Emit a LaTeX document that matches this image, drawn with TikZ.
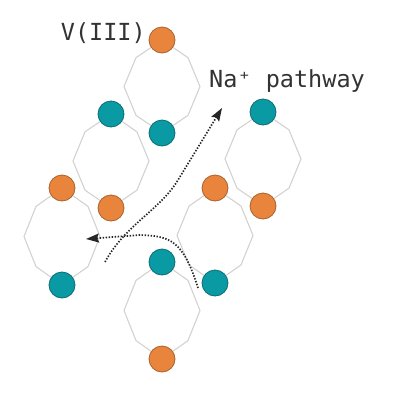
\documentclass[tikz,border=0pt]{standalone}
\usepackage{fontspec}
\usepackage{tikz}
\usetikzlibrary{arrows.meta}
\newfontfamily\labelfont{DejaVu Sans Mono}
\definecolor{vorange}{HTML}{E8843C}
\definecolor{vorangeline}{HTML}{A9622B}
\definecolor{vteal}{HTML}{0A9AA3}
\definecolor{vtealline}{HTML}{0B6C73}
\definecolor{cageline}{HTML}{D2D2D2}
\definecolor{inkgray}{HTML}{333333}
\tikzstyle{cage}=[draw=cageline, line width=1.1pt, line join=round]
\tikzstyle{ion}=[circle, minimum size=26pt, inner sep=0pt, line width=0.8pt]
\tikzstyle{orange ion}=[ion, fill=vorange, draw=vorangeline]
\tikzstyle{teal ion}=[ion, fill=vteal, draw=vtealline]
\tikzstyle{pathway}=[draw=black!85, line width=1.7pt, dash pattern=on 1.4pt off 1.6pt,
  -{Stealth[length=13pt,width=9pt,inset=2pt]}]
\tikzstyle{label text}=[inner sep=0pt, text=inkgray, font=\labelfont\fontsize{23.5}{28}\selectfont]

\begin{document}
\begin{tikzpicture}[x=1pt, y=-1pt]
  \useasboundingbox (0,0) rectangle (404,394);
  % cages: name / x / top y / bottom y / top ion / bottom ion
  \foreach \n/\x/\t/\b/\ct/\cb in {
      c1/162/40/133/orange/teal,
      c2/111/114/208/teal/orange,
      c3/263/112/206/teal/orange,
      c4/62/188/285/orange/teal,
      c5/215/188/283/orange/teal,
      c6/162/262/359/teal/orange} {
    \pgfmathsetmacro\h{\b-\t}
    \draw[cage] (\x,\t) -- ++(-26,0.19*\h) -- ++(-12,0.31*\h) -- ++(12,0.31*\h)
      -- (\x,\b) -- ++(26,-0.19*\h) -- ++(12,-0.31*\h) -- ++(-12,-0.31*\h) -- cycle;
    \node[\ct\space ion] (\n-top) at (\x,\t) {};
    \node[\cb\space ion] (\n-bot) at (\x,\b) {};
  }

  % labels
  \node[label text, anchor=base east] (v3) at (146,40) {V(III)};
  \node[label text, anchor=base west] (na) at (209,87) {Na⁺ pathway};

  % sodium paths
  \coordinate (up start) at (105,262);
  \coordinate (up end) at (222,108);
  \coordinate (left start) at (198,288);
  \coordinate (left end) at (86,239);
  \draw[pathway] (up start) .. controls (125,225) and (160,210) .. (178,180) -- (up end);
  \draw[pathway] (left start) .. controls (183,240) and (170,236) .. (140,235) -- (left end);
\end{tikzpicture}
\end{document}
